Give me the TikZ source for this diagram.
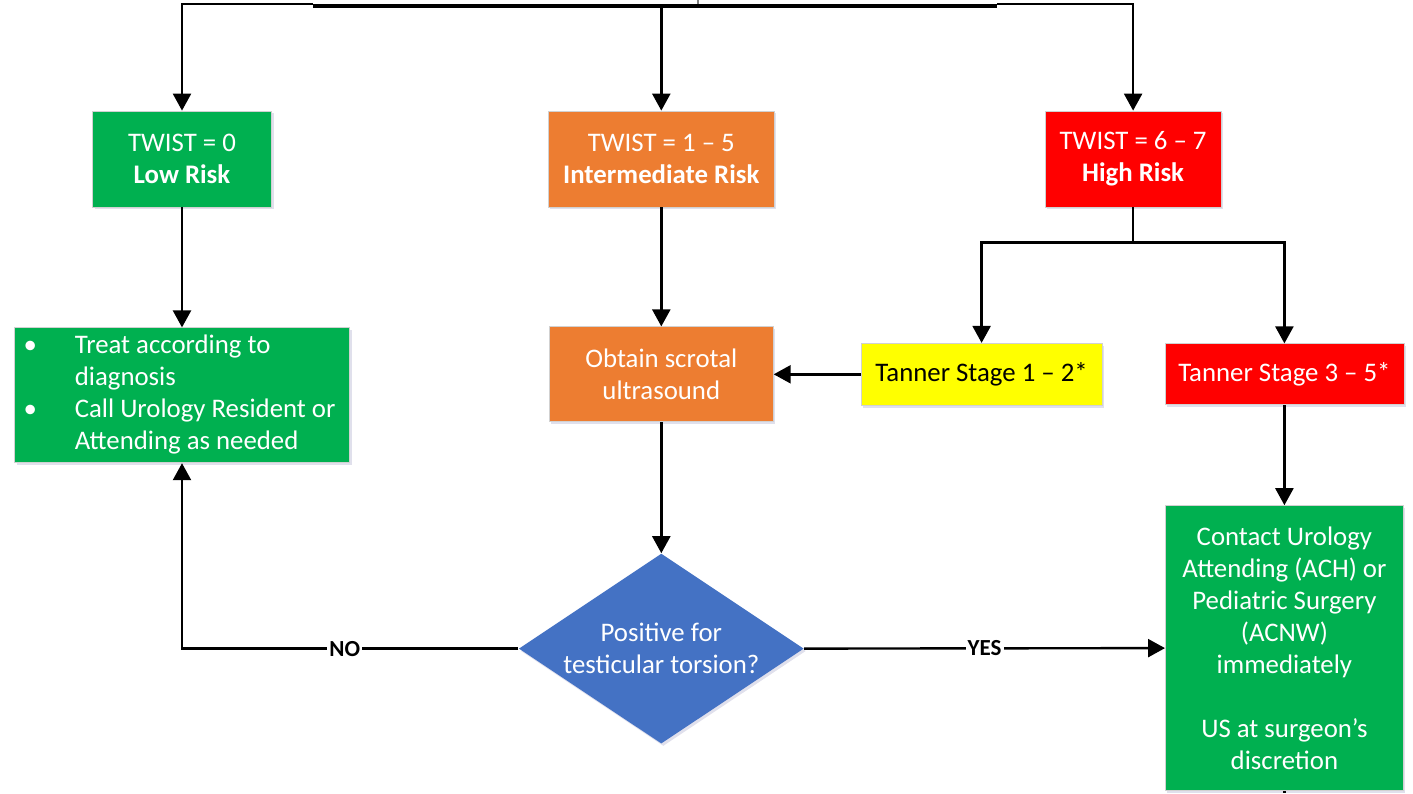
\documentclass[tikz,border=0pt]{standalone}
\usepackage{fontspec}
\setmainfont{Carlito}
\usetikzlibrary{arrows.meta, positioning, shapes.geometric, shadows}
\definecolor{twistGreen}{HTML}{00B050}
\definecolor{twistOrange}{HTML}{ED7D31}
\definecolor{twistRed}{HTML}{FF0000}
\definecolor{twistYellow}{HTML}{FFFF00}
\definecolor{twistBlue}{HTML}{4472C4}
\tikzset{
  box/.style       = {rectangle, draw=black!18, line width=0.4pt, align=center,
                      inner sep=0pt, text=white, font=\fontsize{13.4}{16}\selectfont,
                      drop shadow={shadow xshift=1pt, shadow yshift=-1.2pt,
                                   opacity=0.12, fill=blue!40!black}},
  greenbox/.style  = {box, fill=twistGreen},
  orangebox/.style = {box, fill=twistOrange},
  redbox/.style    = {box, fill=twistRed},
  yellowbox/.style = {box, fill=twistYellow, text=black},
  decision/.style  = {diamond, fill=twistBlue, text=white, align=center, inner sep=0pt,
                      minimum width=142.5pt, minimum height=95pt, aspect=1.5,
                      font=\fontsize{13.4}{16}\selectfont,
                      drop shadow={shadow xshift=1pt, shadow yshift=-1.2pt,
                                   opacity=0.12, fill=blue!40!black}},
  flow/.style      = {-{Triangle[length=8.5pt, width=9pt]}, line width=1.2pt},
  plain/.style     = {line width=1.2pt},
  answer/.style    = {fill=white, inner sep=1pt, font=\bfseries\fontsize{11.5}{13}\selectfont}
}
\begin{document}
\begin{tikzpicture}
  \useasboundingbox (0,0) rectangle (706.5pt,-396.5pt);

  % risk groups
  \node[greenbox, minimum width=89.5pt, minimum height=48pt] (low) at (91pt,-79.5pt)
                   {TWIST = 0\\\textbf{Low Risk}};
  \node[orangebox, minimum width=113pt, minimum height=48pt] (mid) [right=138pt of low]
                   {TWIST = 1 – 5\\\textbf{Intermediate Risk}};
  \node[redbox, minimum width=88pt, minimum height=48pt] (high) [right=135pt of mid]
                   {TWIST = 6 – 7\\\textbf{High Risk}};

  % second row
  \node[greenbox, minimum width=167.5pt, minimum height=67.5pt] (treat) [below=60pt of low]
                   {\begin{tabular}{@{}c@{\hspace{19pt}}l@{\hspace{2.5pt}}}
                      \textbullet & Treat according to\\
                                  & diagnosis\\
                      \textbullet & Call Urology Resident or\\
                                  & Attending as needed
                    \end{tabular}};
  \node[orangebox, minimum width=112pt, minimum height=47.5pt] (scan) [below=59.5pt of mid]
                   {Obtain scrotal\\ultrasound};
  \node[yellowbox, minimum width=120.5pt, minimum height=31pt] (early) [right=43.5pt of scan]
                   {Tanner Stage 1 – 2*};
  \node[redbox, minimum width=119.5pt, minimum height=30.5pt] (late) [right=31pt of early]
                   {Tanner Stage 3 – 5*};

  % bottom row
  \node[decision] (torsion) [below=65.5pt of scan] {Positive for\\testicular torsion?};
  \node[greenbox, minimum width=119pt, minimum height=142.5pt] (contact) [below=50pt of late]
                   {Contact Urology\\Attending (ACH) or\\Pediatric Surgery\\(ACNW)\\immediately\\[16pt]US at surgeon’s\\discretion};

  % feed from above
  \coordinate (busL) at (156.5pt,-2.75pt);
  \coordinate (busR) at (498.5pt,-2.75pt);
  \coordinate (feedTop) at (349pt,0pt);
  \coordinate (pageFoot) at (0pt,-396.5pt);
  \draw[gray, line width=1pt] (feedTop) -- (feedTop |- busL);
  \draw[line width=2pt] (busL) -- (busR);
  \draw[flow] ([yshift=0.75pt]busL) -| (low.north);
  \draw[flow] (mid.north |- busL) -- (mid.north);
  \draw[flow] ([yshift=0.75pt]busR) -| (high.north);

  \draw[flow] (low) -- (treat);
  \draw[flow] (mid) -- (scan);
  \draw[plain] (high.south) -- ++(0,-17.5pt) coordinate (split);
  \draw[flow] (split) -| (early.north);
  \draw[flow] (split) -| (late.north);
  \draw[flow] (early) -- (scan);
  \draw[flow] (scan) -- (torsion);
  \draw[flow] (late) -- (contact);

  \draw[flow] (torsion.west) -| node[answer, pos=0.258]{NO} (treat.south);
  \draw[flow] (torsion.east) -- node[answer]{YES} (contact.west);
  \draw[plain] (contact.south) -- (contact.south |- pageFoot);
\end{tikzpicture}
\end{document}
